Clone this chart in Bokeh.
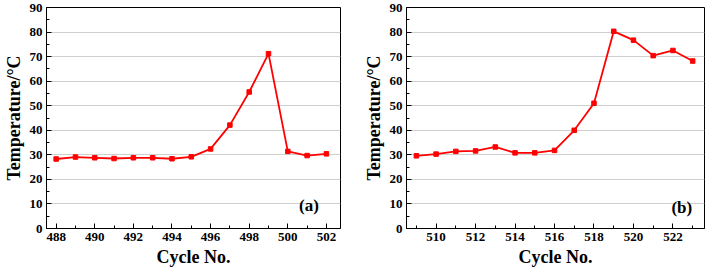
from bokeh.plotting import figure
from bokeh.layouts import row
from bokeh.models import FixedTicker, Range1d, Label
from bokeh.embed import file_html
from bokeh.resources import INLINE

cycles_a = [488, 489, 490, 491, 492, 493, 494, 495, 496, 497, 498, 499, 500, 501, 502]
temp_a = [28.3, 29.1, 28.8, 28.5, 28.8, 28.8, 28.4, 29.2, 32.4, 42.1, 55.6, 71.2, 31.4, 29.7, 30.4]

cycles_b = [509, 510, 511, 512, 513, 514, 515, 516, 517, 518, 519, 520, 521, 522, 523]
temp_b = [29.6, 30.3, 31.4, 31.6, 33.2, 30.8, 30.8, 31.8, 40.0, 51.0, 80.3, 76.7, 70.4, 72.5, 68.2]

xticks_a = [488, 490, 492, 494, 496, 498, 500, 502]
xticks_b = [510, 512, 514, 516, 518, 520, 522]
yticks = [0, 10, 20, 30, 40, 50, 60, 70, 80, 90]

FONT = "Liberation Serif"
RED = "#ff0000"


def make_panel(xs, ys, xticks, xminor, xr, tag, tag_xy, width, bl, br):
    p = figure(width=width, height=269, output_backend="svg", toolbar_location=None,
               x_range=Range1d(*xr), y_range=Range1d(0, 90),
               min_border_left=bl, min_border_right=br, min_border_top=7, min_border_bottom=41)
    p.background_fill_color = "white"
    p.border_fill_color = "white"
    p.outline_line_color = "black"
    p.outline_line_width = 1
    p.xgrid.visible = False
    p.ygrid.grid_line_color = "#cfcfcf"
    p.ygrid.grid_line_width = 1
    p.ygrid.ticker = FixedTicker(ticks=yticks)

    p.xaxis.ticker = FixedTicker(ticks=xticks, minor_ticks=xminor)
    p.yaxis.ticker = FixedTicker(ticks=yticks, minor_ticks=[5, 15, 25, 35, 45, 55, 65, 75, 85])
    for ax in (p.xaxis[0], p.yaxis[0]):
        ax.major_tick_in = 5
        ax.major_tick_out = 0
        ax.minor_tick_in = 3
        ax.minor_tick_out = 0
        ax.axis_line_width = 1
        ax.major_label_text_font = FONT
        ax.major_label_text_font_style = "bold"
        ax.major_label_text_font_size = "13px"
        ax.major_label_text_color = "black"
        ax.axis_label_text_font = FONT
        ax.axis_label_text_font_style = "bold"
        ax.axis_label_text_font_size = "18px"
        ax.axis_label_text_color = "black"
        ax.major_label_standoff = 4
        ax.axis_label_standoff = 3
    p.xaxis.axis_label = "Cycle No."
    p.yaxis.axis_label = "Temperature/°C"

    p.line(xs, ys, line_color=RED, line_width=1.8)
    p.scatter(xs, ys, marker="square", size=4.5, fill_color=RED, line_color=RED)

    p.add_layout(Label(x=tag_xy[0], y=tag_xy[1], text=tag, text_font=FONT, text_font_style="bold",
                       text_font_size="17px", text_align="center", text_baseline="middle",
                       text_color="black"))
    return p


p1 = make_panel(cycles_a, temp_a, xticks_a, [489, 491, 493, 495, 497, 499, 501],
                (487.5, 502.73), "(a)", (501.1, 9.3), 353, 42, 13)
p2 = make_panel(cycles_b, temp_b, xticks_b, [509, 511, 513, 515, 517, 519, 521, 523],
                (508.5, 523.6), "(b)", (522.45, 8.5), 354, 53, 3)

layout = row(p1, p2, spacing=0)
open("out.html", "w").write(file_html(layout, INLINE))
